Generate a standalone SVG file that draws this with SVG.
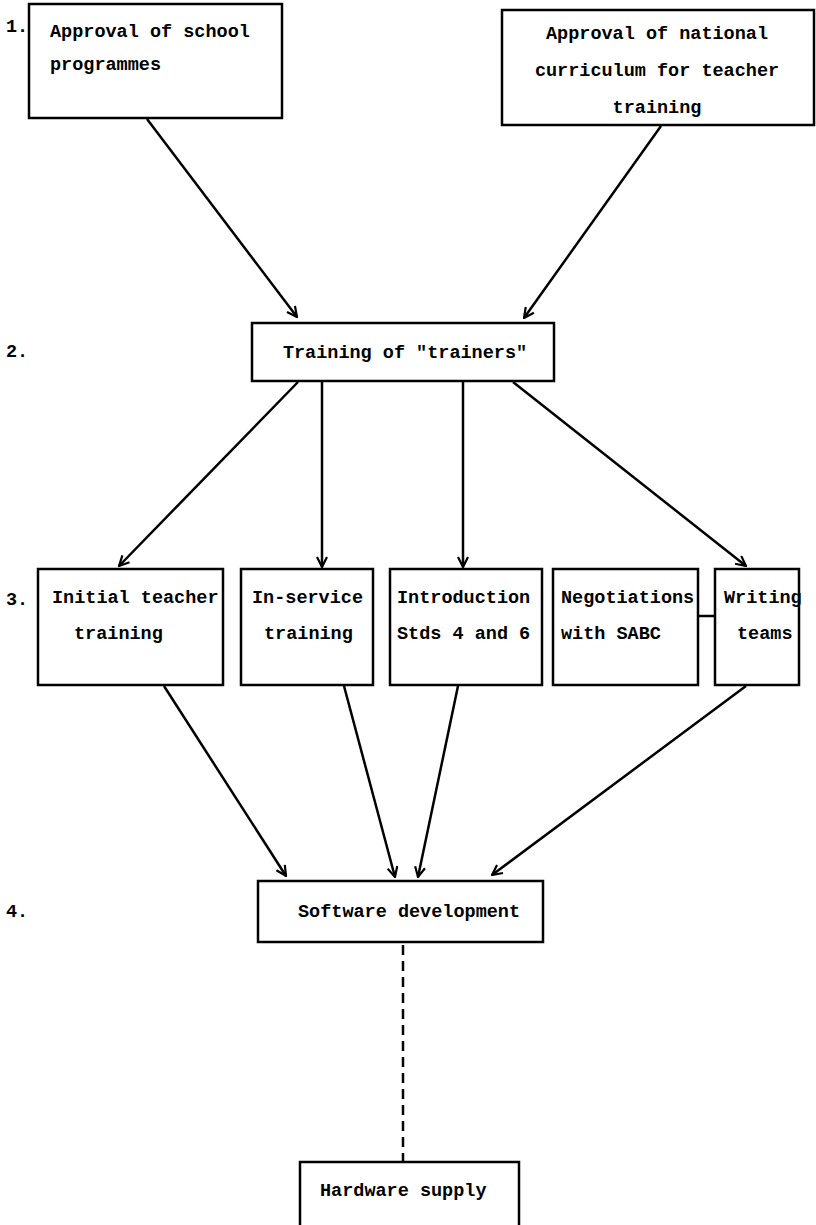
<svg xmlns="http://www.w3.org/2000/svg" width="816" height="1225" viewBox="0 0 816 1225">
<style>
.box{fill:#fff;stroke:#000;stroke-width:2.5}
.t{font-family:"Liberation Mono","Courier New",monospace;font-weight:bold;font-size:18.5px;fill:#000}
.c{text-anchor:middle}
.e{stroke:#000;stroke-width:2.5;fill:none}
.dash{stroke:#000;stroke-width:2.5;fill:none;stroke-dasharray:10,6}
</style>
<defs>
<marker id="arr" viewBox="0 0 12 12" refX="11" refY="6" markerWidth="12" markerHeight="12" markerUnits="userSpaceOnUse" orient="auto">
<polyline points="1,1 11,6 1,11" fill="none" stroke="#000" stroke-width="2.2"/>
</marker>
</defs>
<g id="levels">
<text class="t" x="6" y="32">1.</text>
<text class="t" x="6" y="357">2.</text>
<text class="t" x="6" y="605">3.</text>
<text class="t" x="6" y="917">4.</text>
</g>
<g id="connectors">
<line class="e" x1="147" y1="119" x2="297" y2="317" marker-end="url(#arr)"/>
<line class="e" x1="661" y1="126" x2="524" y2="318" marker-end="url(#arr)"/>
<line class="e" x1="298" y1="382" x2="119" y2="566" marker-end="url(#arr)"/>
<line class="e" x1="322" y1="382" x2="322" y2="567" marker-end="url(#arr)"/>
<line class="e" x1="463" y1="382" x2="463" y2="567" marker-end="url(#arr)"/>
<line class="e" x1="513" y1="382" x2="746" y2="566" marker-end="url(#arr)"/>
<line class="e" x1="164" y1="686" x2="286" y2="876" marker-end="url(#arr)"/>
<line class="e" x1="344" y1="686" x2="395" y2="877" marker-end="url(#arr)"/>
<line class="e" x1="458" y1="686" x2="418" y2="877" marker-end="url(#arr)"/>
<line class="e" x1="746" y1="686" x2="492" y2="875" marker-end="url(#arr)"/>
<line class="e" x1="698" y1="616" x2="715" y2="616"/>
<line class="dash" x1="403" y1="945" x2="403" y2="1162"/>
</g>
<g id="n1">
<rect class="box" x="29" y="4" width="253" height="114"/>
<text class="t" x="50" y="37">Approval of school</text>
<text class="t" x="50" y="70">programmes</text>
</g>
<g id="n2">
<rect class="box" x="502" y="10" width="312" height="115"/>
<text class="t c" x="657" y="39">Approval of national</text>
<text class="t c" x="657" y="76">curriculum for teacher</text>
<text class="t c" x="657" y="113">training</text>
</g>
<g id="n3">
<rect class="box" x="252" y="323" width="302" height="58"/>
<text class="t c" x="405" y="358">Training of "trainers"</text>
</g>
<g id="n4">
<rect class="box" x="38" y="569" width="185" height="116"/>
<text class="t" x="52" y="603">Initial teacher</text>
<text class="t" x="74" y="639">training</text>
</g>
<g id="n5">
<rect class="box" x="241" y="569" width="132" height="116"/>
<text class="t" x="252" y="603">In-service</text>
<text class="t" x="264" y="639">training</text>
</g>
<g id="n6">
<rect class="box" x="390" y="569" width="152" height="116"/>
<text class="t" x="397" y="603">Introduction</text>
<text class="t" x="397" y="639">Stds 4 and 6</text>
</g>
<g id="n7">
<rect class="box" x="553" y="569" width="145" height="116"/>
<text class="t" x="561" y="603">Negotiations</text>
<text class="t" x="561" y="639">with SABC</text>
</g>
<g id="n8">
<rect class="box" x="715" y="569" width="84" height="116"/>
<text class="t" x="724" y="603">Writing</text>
<text class="t" x="737" y="639">teams</text>
</g>
<g id="n9">
<rect class="box" x="258" y="881" width="285" height="61"/>
<text class="t" x="298" y="917">Software development</text>
</g>
<g id="n10">
<rect class="box" x="300" y="1162" width="219" height="80"/>
<text class="t" x="320" y="1196">Hardware supply</text>
</g>
</svg>
